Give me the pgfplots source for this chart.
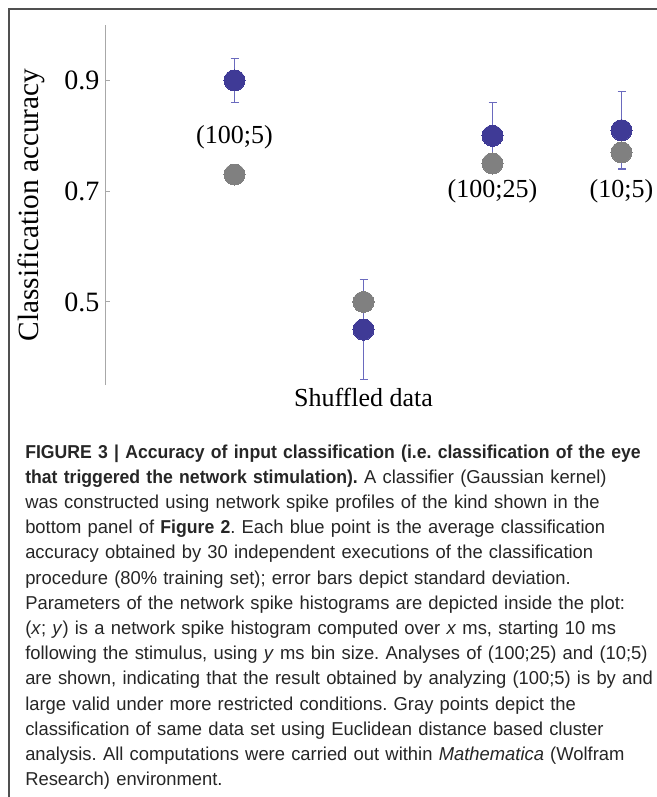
\documentclass[border=0pt]{standalone}
\usepackage{fontspec}
\setmainfont{Liberation Serif}
\newfontfamily\capfont[FakeStretch=0.985]{Liberation Sans}
\newfontfamily\capbf[FakeStretch=0.945]{Liberation Sans Bold}
\usepackage{pgfplots}
\pgfplotsset{compat=1.18}
\definecolor{ptblue}{HTML}{3F3A96}
\definecolor{errblue}{HTML}{6A6ABE}
\definecolor{ptgray}{HTML}{808080}
\definecolor{axgray}{HTML}{A8A8A8}
\definecolor{framegray}{HTML}{505050}
\begin{document}
\begin{tikzpicture}
\path[use as bounding box] (0,0) rectangle (492.75pt,-597.75pt);
\draw[framegray, line width=0.9pt] (6.75pt,-600pt) -- (6.75pt,-6.75pt) -- (495pt,-6.75pt);
\begin{axis}[
  at={(79.125pt,-288.75pt)}, anchor=south west,
  scale only axis, width=406.35pt, height=270pt,
  xmin=0, xmax=4.2, ymin=0.35, ymax=1.0,
  clip=false,
  axis x line=none, axis y line*=left,
  y axis line style={draw=axgray, line width=0.8pt},
  ytick={0.5,0.7,0.9}, yticklabels={0.5,0.7,0.9},
  tick align=inside, major tick length=3.75pt,
  ytick style={draw=axgray, line width=0.8pt},
  yticklabel style={font=\fontsize{21}{24}\selectfont, xshift=-1pt},
  ylabel={Classification accuracy},
  every axis y label/.style={at={(axis description cs:-0.136,0.5)}, rotate=90, anchor=center, font=\fontsize{22}{25}\selectfont},
]
% error bars of the blue points
\addplot[only marks, mark=none,
  error bars/.cd, y dir=both, y explicit,
  error bar style={draw=errblue, line width=0.8pt},
  error mark options={draw=errblue, line width=0.8pt, mark size=3pt, rotate=90}]
  table[x=x, y=y, y error=e] {
x y e
1 0.90 0.04
2 0.45 0.09
3 0.80 0.06
4 0.81 0.07
};
% gray points (cluster analysis)
\addplot[only marks, color=ptgray, mark=*, mark size=7.9pt, mark options={draw=ptgray, fill=ptgray, line width=0pt}]
  table[x=x, y=y] {
x y
1 0.73
2 0.50
3 0.75
4 0.77
};
% blue points (classifier)
\addplot[only marks, color=ptblue, mark=*, mark size=7.9pt, mark options={draw=ptblue, fill=ptblue, line width=0pt}]
  table[x=x, y=y] {
x y
1 0.90
2 0.45
3 0.80
4 0.81
};
\node[font=\fontsize{19.5}{22}\selectfont] at (axis cs:1,0.797) {(100;5)};
\node[font=\fontsize{19.5}{22}\selectfont] at (axis cs:3,0.70) {(100;25)};
\node[font=\fontsize{19.5}{22}\selectfont] at (axis cs:4,0.70) {(10;5)};
\node[font=\fontsize{19.5}{22}\selectfont] at (axis cs:2,0.328) {Shuffled data};
\end{axis}
\node[anchor=base west, inner sep=0pt, text width=560pt, align=left,
  font=\capfont\fontsize{14}{18.9}\selectfont\frenchspacing, text=black!85] at (18.75pt,-343.5pt) {%
{\capbf FIGURE 3 | Accuracy of input classification (i.e. classification of the eye}\\
{\capbf that triggered the network stimulation).} A classifier (Gaussian kernel)\\
was constructed using network spike profiles of the kind shown in the\\
bottom panel of {\capbf Figure 2}. Each blue point is the average classification\\
accuracy obtained by 30 independent executions of the classification\\
procedure (80\% training set); error bars depict standard deviation.\\
Parameters of the network spike histograms are depicted inside the plot:\\
(\textit{x}; \textit{y}) is a network spike histogram computed over \textit{x} ms, starting 10 ms\\
following the stimulus, using \textit{y} ms bin size. Analyses of (100;25) and (10;5)\\
are shown, indicating that the result obtained by analyzing (100;5) is by and\\
large valid under more restricted conditions. Gray points depict the\\
classification of same data set using Euclidean distance based cluster\\
analysis. All computations were carried out within \textit{Mathematica} (Wolfram\\
Research) environment.};
\end{tikzpicture}
\end{document}
